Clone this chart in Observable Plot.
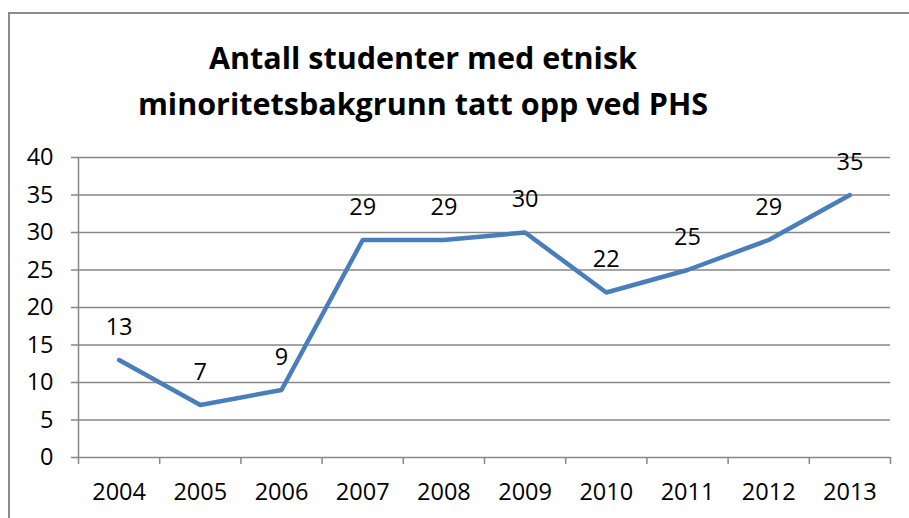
<!DOCTYPE html>
<html><head><meta charset="utf-8">
<script src="https://cdn.jsdelivr.net/npm/d3@7"></script>
<script src="https://cdn.jsdelivr.net/npm/@observablehq/plot@0.6"></script>
<style>
html,body{margin:0;padding:0;background:#fff;overflow:hidden;width:909px;height:518px}
#frame{position:absolute;left:8px;top:12px;width:1000px;height:600px;border:2px solid #8c8c8c;box-sizing:border-box}
#chart{position:absolute;left:0;top:0}
#title{position:absolute;left:0;top:34px;width:846px;text-align:center;font-family:"Open Sans";font-weight:bold;font-size:30.5px;line-height:46px;color:#000}
</style></head><body>
<div id="frame"></div>
<div id="chart"></div>
<div id="title">Antall studenter med etnisk<br>minoritetsbakgrunn tatt opp ved PHS</div>
<script>
const years = [2004, 2005, 2006, 2007, 2008, 2009, 2010, 2011, 2012, 2013];
const values = [13, 7, 9, 29, 29, 30, 22, 25, 29, 35];
const yTicks = [0, 5, 10, 15, 20, 25, 30, 35, 40];
const xBoundaries = [2003.5, 2004.5, 2005.5, 2006.5, 2007.5, 2008.5, 2009.5, 2010.5, 2011.5, 2012.5, 2013.5];

const data = years.map((y, i) => ({year: y, value: values[i]}));
const gridColor = "#878787";

const chart = Plot.plot({
  width: 909,
  height: 518,
  marginLeft: 78,
  marginRight: 19,
  marginTop: 157,
  marginBottom: 61,
  style: {background: "transparent", fontFamily: "Open Sans", fontSize: "23.5px", color: "#000", overflow: "visible"},
  x: {type: "linear", domain: [2003.5, 2013.5]},
  y: {domain: [0, 40]},
  marks: [
    Plot.gridY(yTicks, {stroke: gridColor, strokeOpacity: 1, strokeWidth: 1.5}),
    Plot.ruleX([2003.5], {y1: 0, y2: 40, stroke: gridColor, strokeWidth: 1.5}),
    Plot.axisY(yTicks, {tickSize: 7, tickPadding: 18, stroke: gridColor, strokeWidth: 1.5, tickFormat: d => String(d), label: null, fill: "#000"}),
    Plot.axisX(xBoundaries, {tickSize: 7, tickFormat: () => "", stroke: gridColor, strokeWidth: 1.5, label: null}),
    Plot.axisX(years, {tickSize: 0, tickPadding: 26, tickFormat: d => String(d), label: null, fill: "#000"}),
    Plot.line(data, {x: "year", y: "value", stroke: "#4A7EBB", strokeWidth: 4.5}),
    Plot.text(data, {x: "year", y: "value", text: d => String(d.value), dy: -33, fill: "#000", fontSize: 23.5})
  ]
});
document.getElementById("chart").appendChild(chart);
</script>
</body></html>
